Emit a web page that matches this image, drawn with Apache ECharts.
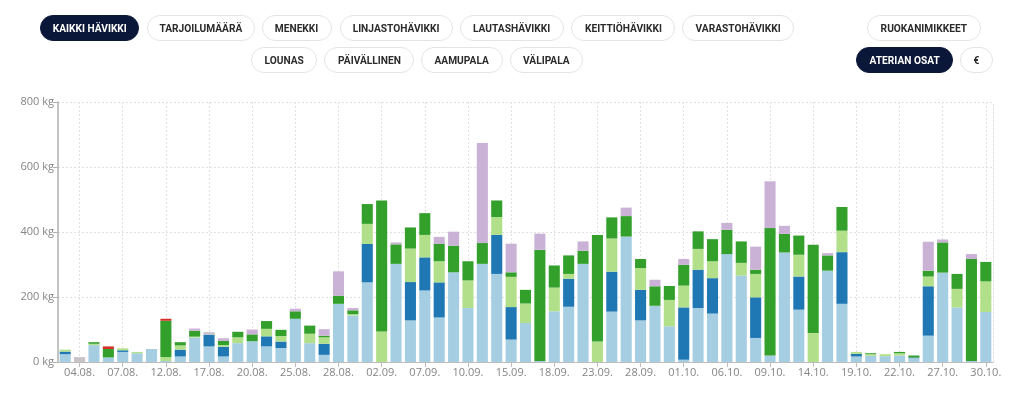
<!DOCTYPE html>
<html>
<head>
<meta charset="utf-8">
<script src="https://cdn.jsdelivr.net/npm/echarts@6/dist/echarts.min.js"></script>
<style>
  html, body { margin: 0; padding: 0; background: #fff; width: 1024px; height: 395px; overflow: hidden; }
  #chart { position: absolute; left: 0; top: 0; width: 1024px; height: 395px; }
  .btn { position: absolute; height: 24px; line-height: 24px; border: 1px solid #e4e4e4; border-radius: 14px;
         background: #fff; color: #2b2b2b; text-align: center; box-sizing: content-box; overflow: hidden;
         font-family: "Roboto", "DejaVu Sans", sans-serif;
         font-weight: bold; font-size: 11.5px; white-space: nowrap; }
  .btn span { display: inline-block; transform-origin: center center; }
  .btn.on { background: #0b1738; border-color: #0b1738; color: #fff; }
</style>
</head>
<body>
<div id="chart"></div>
<script>
// ---- Data ----
const categories = [
  "01.08.","04.08.","05.08.","06.08.","07.08.","08.08.","11.08.","12.08.","13.08.","14.08.",
  "17.08.","18.08.","19.08.","20.08.","21.08.","22.08.","25.08.","26.08.","27.08.","28.08.",
  "29.08.","01.09.","02.09.","03.09.","04.09.","07.09.","08.09.","09.09.","10.09.","11.09.",
  "12.09.","15.09.","16.09.","17.09.","18.09.","19.09.","22.09.","23.09.","24.09.","25.09.",
  "28.09.","29.09.","30.09.","01.10.","02.10.","03.10.","06.10.","07.10.","08.10.","09.10.",
  "10.10.","13.10.","14.10.","15.10.","16.10.","19.10.","20.10.","21.10.","22.10.","23.10.",
  "24.10.","27.10.","28.10.","29.10.","30.10."
];
const paaruoka = [24,0,52,14,31,27,40,3,17,75,48,17,58,64,48,43,133,58,22,179,143,245,0,302,128,220,137,276,166,302,271,69,120,3,156,170,302,0,155,386,128,173,110,7,166,149,332,266,74,20,337,161,0,281,179,17,19,18,20,12,81,275,168,3,154];
const lisake = [8,0,0,0,5,0,0,0,21,0,36,30,0,0,31,20,0,0,34,0,0,118,0,0,118,102,108,0,0,0,120,100,0,0,0,86,0,0,123,0,94,0,0,161,118,109,0,0,125,0,0,102,0,0,159,8,0,0,0,2,152,0,0,0,0];
const salaatti = [6,0,4,0,6,4,0,12,13,3,0,5,18,0,23,17,0,29,20,0,4,62,94,0,103,69,65,0,85,0,55,93,60,0,73,15,0,63,102,0,67,0,81,67,64,52,0,39,72,0,0,67,89,0,66,6,5,6,7,0,30,0,57,0,94];
const keitto = [0,0,5,26,0,0,0,112,10,18,0,13,17,21,24,19,23,25,5,25,12,61,403,60,65,67,53,82,59,64,51,14,42,342,68,57,40,328,65,63,28,60,43,64,54,68,75,66,13,392,57,59,272,47,73,0,3,0,4,6,18,93,46,314,60];
const kastike = [0,0,0,8,0,0,0,6,0,0,0,0,0,0,0,0,0,0,0,0,0,0,0,0,0,0,0,0,0,0,0,0,0,0,0,0,0,0,0,0,0,0,0,0,0,0,0,0,0,0,0,0,0,0,0,0,0,0,0,0,0,0,0,0,0];
const jalkiruoka = [0,0,0,0,0,0,0,0,0,7,0,8,0,15,0,0,8,0,20,75,7,0,0,6,0,0,22,43,0,308,0,88,0,50,0,0,29,0,0,26,0,20,0,18,0,0,21,0,71,144,25,0,0,7,0,0,0,0,0,0,89,9,0,15,0];
const muu = [0,15,0,0,0,0,0,0,0,0,8,0,0,0,0,0,0,0,0,0,0,0,0,0,0,0,0,0,0,0,0,0,0,0,0,0,0,0,0,0,0,0,0,0,0,0,0,0,0,0,0,0,0,0,0,0,0,0,0,0,0,0,0,0,0];
const yTicks = [0, 200, 400, 600, 800];

const seriesDefs = [
  ["Pääruoka", paaruoka, "#a6cee3"],
  ["Lisäke", lisake, "#1f78b4"],
  ["Salaatti", salaatti, "#b2df8a"],
  ["Keitto", keitto, "#33a02c"],
  ["Kastike", kastike, "#d7302a"],
  ["Jälkiruoka", jalkiruoka, "#cab2d6"],
  ["Muu", muu, "#c9c3c9"]
];

// ---- Buttons (real text) ----
const buttons = [
  ["KAIKKI HÄVIKKI", 40, 15, 99, true],
  ["TARJOILUMÄÄRÄ", 147, 15, 108, false],
  ["MENEKKI", 262, 15, 70, false],
  ["LINJASTOHÄVIKKI", 340, 15, 113, false],
  ["LAUTASHÄVIKKI", 460, 15, 104, false],
  ["KEITTIÖHÄVIKKI", 571, 15, 104, false],
  ["VARASTOHÄVIKKI", 682, 15, 112, false],
  ["RUOKANIMIKKEET", 867, 15, 114, false],
  ["LOUNAS", 251, 47, 66, false],
  ["PÄIVÄLLINEN", 324, 47, 90, false],
  ["AAMUPALA", 421, 47, 82, false],
  ["VÄLIPALA", 510, 47, 73, false],
  ["ATERIAN OSAT", 856, 47, 97, true],
  ["€", 960, 47, 33, false]
];
// condense the text horizontally to mimic the original narrow typeface
const meas = document.createElement('canvas').getContext('2d');
meas.font = 'bold 11.5px Roboto, "DejaVu Sans", sans-serif';
const squeeze = 74 / meas.measureText("KAIKKI HÄVIKKI").width;
buttons.forEach(([t, x, y, w, on]) => {
  const d = document.createElement('div');
  d.className = 'btn' + (on ? ' on' : '');
  const s = document.createElement('span');
  s.textContent = t;
  s.style.transform = 'scaleX(' + squeeze.toFixed(3) + ')';
  d.appendChild(s);
  d.style.left = x + 'px';
  d.style.top = y + 'px';
  d.style.width = (w - 2) + 'px';
  document.body.appendChild(d);
});

// ---- Chart ----
const chart = echarts.init(document.getElementById('chart'), null, { renderer: 'canvas' });
const showIdx = (i) => i % 3 === 1;
const fontFam = '"Open Sans", "DejaVu Sans", sans-serif';

chart.setOption({
  animation: false,
  grid: { left: 58, right: 31, top: 102, bottom: 33, containLabel: false },
  xAxis: {
    type: 'category',
    data: categories,
    boundaryGap: true,
    axisLine: { show: true, lineStyle: { color: '#bdbdbd', width: 1 } },
    axisTick: { show: true, alignWithLabel: true, interval: showIdx, length: 5, lineStyle: { color: '#bdbdbd' } },
    axisLabel: { interval: showIdx, color: '#858585', fontSize: 11, fontFamily: fontFam, margin: 5 },
    splitLine: { show: true, interval: showIdx, alignWithLabel: true, lineStyle: { color: '#e0e0e0', type: [2, 2] } }
  },
  yAxis: [{
    type: 'value',
    min: yTicks[0],
    max: yTicks[yTicks.length - 1],
    interval: 200,
    axisLine: { show: true, lineStyle: { color: '#b0b0b0', width: 1.5 } },
    axisTick: { show: true, length: 5, lineStyle: { color: '#b0b0b0' } },
    axisLabel: { color: '#858585', fontSize: 11, fontFamily: fontFam, margin: 4, formatter: '{value} kg' },
    splitLine: { show: true, lineStyle: { color: '#e0e0e0', type: [2, 2] } }
  }, {
    type: 'value',
    position: 'right',
    min: 0, max: 800, interval: 200,
    axisLine: { show: true, lineStyle: { color: '#e0e0e0', type: [2, 2] } },
    axisTick: { show: false },
    axisLabel: { show: false },
    splitLine: { show: false }
  }],
  series: seriesDefs.map(([name, data, color]) => ({
    name,
    type: 'bar',
    stack: 'total',
    data,
    barCategoryGap: '23%',
    itemStyle: { color },
    emphasis: { disabled: true }
  }))
});
</script>
</body>
</html>
